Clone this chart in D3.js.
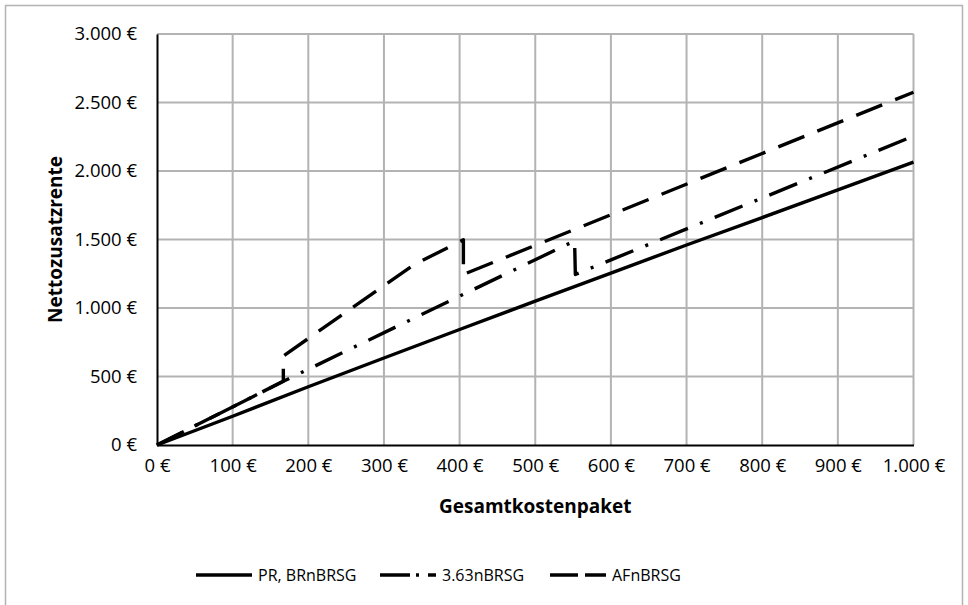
<!DOCTYPE html>
<html lang="de">
<head>
    <meta charset="UTF-8">
    <title>Nettozusatzrente nach Gesamtkostenpaket</title>
    <script src="https://d3js.org/d3.v7.min.js"></script>
    <style>
        body { margin: 0; background: #fff; }
        text { font-family: "Open Sans", "Noto Sans", sans-serif; fill: #000; }
        .tick text { font-size: 18.5px; }
        .axis-title { font-size: 19px; font-weight: bold; }
        .legend text { font-size: 16px; }
    </style>
</head>
<body>
    <div id="chart"></div>

    <script>
        // Werte
        const prX = [0, 100, 200, 300, 400, 500, 600, 700, 800, 900, 1000];
        const prY = [0, 210, 425, 635, 843, 1050, 1255, 1460, 1660, 1862, 2065];

        const n363X = [0, 167, 405, 552, 553, 1000];
        const n363Y = [0, 465, 1100, 1490, 1245, 2255];

        const afX = [0, 167, 167, 339, 405, 405, 1000];
        const afY = [0, 465, 650, 1314, 1498, 1245, 2575];

        const seriesNames = ["PR, BRnBRSG", "3.63nBRSG", "AFnBRSG"];
        const xTicks = [0, 100, 200, 300, 400, 500, 600, 700, 800, 900, 1000];
        const yTicks = [0, 500, 1000, 1500, 2000, 2500, 3000];

        const W = 968, H = 605;
        const margin = { top: 34, right: 55, bottom: 160, left: 157 };
        const width = 913.5 - margin.left;
        const height = 445 - margin.top;

        const fmt = v => d3.format(",")(v).replace(/,/g, ".") + "\u00a0€";

        const svg = d3.select("#chart").append("svg")
            .attr("width", W)
            .attr("height", H);

        // aeusserer Rahmen
        svg.append("rect")
            .attr("x", 5.5).attr("y", 5.5)
            .attr("width", 957).attr("height", 620)
            .attr("fill", "none")
            .attr("stroke", "#b3b3b3")
            .attr("stroke-width", 1.5);

        const g = svg.append("g")
            .attr("transform", "translate(" + margin.left + "," + margin.top + ")");

        const xScale = d3.scaleLinear().domain([0, 1000]).range([0, width]);
        const yScale = d3.scaleLinear().domain([0, 3000]).range([height, 0]);

        // Gitternetz
        g.append("g").selectAll("line")
            .data(xTicks.slice(1))
            .enter().append("line")
            .attr("x1", d => xScale(d)).attr("x2", d => xScale(d))
            .attr("y1", 0).attr("y2", height)
            .attr("stroke", "#b3b3b3").attr("stroke-width", 2);

        g.append("g").selectAll("line")
            .data(yTicks.slice(1))
            .enter().append("line")
            .attr("x1", 0).attr("x2", width)
            .attr("y1", d => yScale(d)).attr("y2", d => yScale(d))
            .attr("stroke", "#b3b3b3").attr("stroke-width", 2);

        // Achsen
        const xAxis = d3.axisBottom(xScale).tickValues(xTicks).tickFormat(fmt).tickSize(0).tickPadding(14);
        const yAxis = d3.axisLeft(yScale).tickValues(yTicks).tickFormat(fmt).tickSize(0).tickPadding(20);

        const gx = g.append("g")
            .attr("transform", "translate(0," + height + ")")
            .call(xAxis);
        const gy = g.append("g").call(yAxis);

        [gx, gy].forEach(a => {
            a.select(".domain").attr("stroke", "#000").attr("stroke-width", 2);
            a.selectAll(".tick text").attr("fill", "#000");
        });

        // Achsentitel
        g.append("text")
            .attr("class", "axis-title")
            .attr("x", width / 2)
            .attr("y", height + 68)
            .attr("text-anchor", "middle")
            .text("Gesamtkostenpaket");

        g.append("text")
            .attr("class", "axis-title")
            .attr("transform", "rotate(-90)")
            .attr("x", -height / 2)
            .attr("y", -95)
            .attr("text-anchor", "middle")
            .text("Nettozusatzrente");

        // Linien
        const series = [
            { name: seriesNames[0], xs: prX, ys: prY, dash: null, legendDash: null },
            { name: seriesNames[1], xs: n363X, ys: n363Y, dash: "30,13,3,13", legendDash: "30,6,3,9" },
            { name: seriesNames[2], xs: afX, ys: afY, dash: "28,14", legendDash: "28,7" }
        ];

        const line = d3.line()
            .x(d => xScale(d[0]))
            .y(d => yScale(d[1]));

        series.forEach(s => {
            g.append("path")
                .datum(d3.zip(s.xs, s.ys))
                .attr("d", line)
                .attr("fill", "none")
                .attr("stroke", "#000")
                .attr("stroke-width", 3.4)
                .attr("stroke-linejoin", "round")
                .attr("stroke-dasharray", s.dash);
        });

        // Legende
        const legendX = [196, 380, 550];
        const legend = svg.append("g").attr("class", "legend");
        series.forEach((s, i) => {
            const item = legend.append("g")
                .attr("transform", "translate(" + legendX[i] + ",575)");
            item.append("line")
                .attr("x1", 0).attr("x2", 56)
                .attr("y1", 0).attr("y2", 0)
                .attr("stroke", "#000")
                .attr("stroke-width", 3.4)
                .attr("stroke-dasharray", s.legendDash);
            item.append("text")
                .attr("x", 62)
                .attr("dy", "0.35em")
                .text(s.name);
        });
    </script>
</body>
</html>
